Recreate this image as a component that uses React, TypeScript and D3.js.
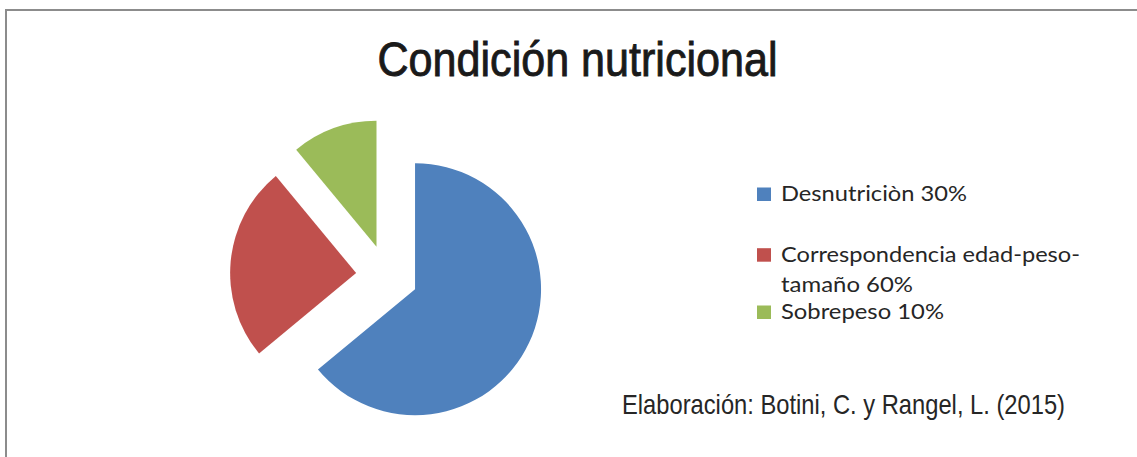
import React from "react";
import * as d3 from "d3";

const categories = ["Desnutriciòn 30%", "Correspondencia edad-peso-tamaño 60%", "Sobrepeso 10%"];
const legendLines = [["Desnutriciòn 30%"], ["Correspondencia edad-peso-", "tamaño 60%"], ["Sobrepeso 10%"]];
const legendWidths = [[186], [299, 132], [163]];
const values = [64, 25, 11];
const colors = ["#4F81BD", "#C0504D", "#9BBB59"];
const title = "Condición nutricional";
const source = "Elaboración: Botini, C. y Rangel, L. (2015)";

export default function App() {
  const W = 1137, H = 457;
  const cx = 387, cy = 276, r = 126, explode = 31;
  const pie = d3.pie<number>().sort(null).value((d) => d);
  const arcs = pie(values);
  const arc = d3.arc<d3.PieArcDatum<number>>().innerRadius(0).outerRadius(r);
  const legendY = [201, 261.7, 319];
  const lineH = 30;
  return (
    <svg width={W} height={H} style={{ position: "absolute", left: 0, top: 0, background: "#fff" }}>
      <path d={`M6,${H} V10 H${W}`} fill="none" stroke="#8c8c8c" strokeWidth={2} />
      <text x={577.5} y={76} textAnchor="middle" fontFamily="'Liberation Sans Narrow', 'Liberation Sans', Arial" fontSize={48} fill="#1a1a1a" stroke="#1a1a1a" strokeWidth={0.9} textLength={400} lengthAdjust="spacingAndGlyphs">{title}</text>
      <g transform={`translate(${cx},${cy})`}>
        {arcs.map((a, i) => {
          const mid = (a.startAngle + a.endAngle) / 2;
          const dx = Math.sin(mid) * explode, dy = -Math.cos(mid) * explode;
          return <path key={categories[i]} d={arc(a) || ""} fill={colors[i]} transform={`translate(${dx},${dy})`} />;
        })}
      </g>
      {legendLines.map((lines, i) => (
        <g key={i}>
          <rect x={757} y={legendY[i] - 13.5} width={14} height={13.5} fill={colors[i]} />
          {lines.map((t, j) => (
            <text key={j} x={781} y={legendY[i] + j * lineH} fontFamily="Lato, 'Open Sans', sans-serif" fontSize={22} fill="#262626" textLength={legendWidths[i][j]} lengthAdjust="spacingAndGlyphs">{t}</text>
          ))}
        </g>
      ))}
      <g transform="translate(622,414) scale(1,1.17)">
        <text x={0} y={0} fontFamily="'Liberation Sans Narrow', 'Liberation Sans', Arial" fontSize={24} fill="#262626" textLength={443} lengthAdjust="spacingAndGlyphs">{source}</text>
      </g>
    </svg>
  );
}
